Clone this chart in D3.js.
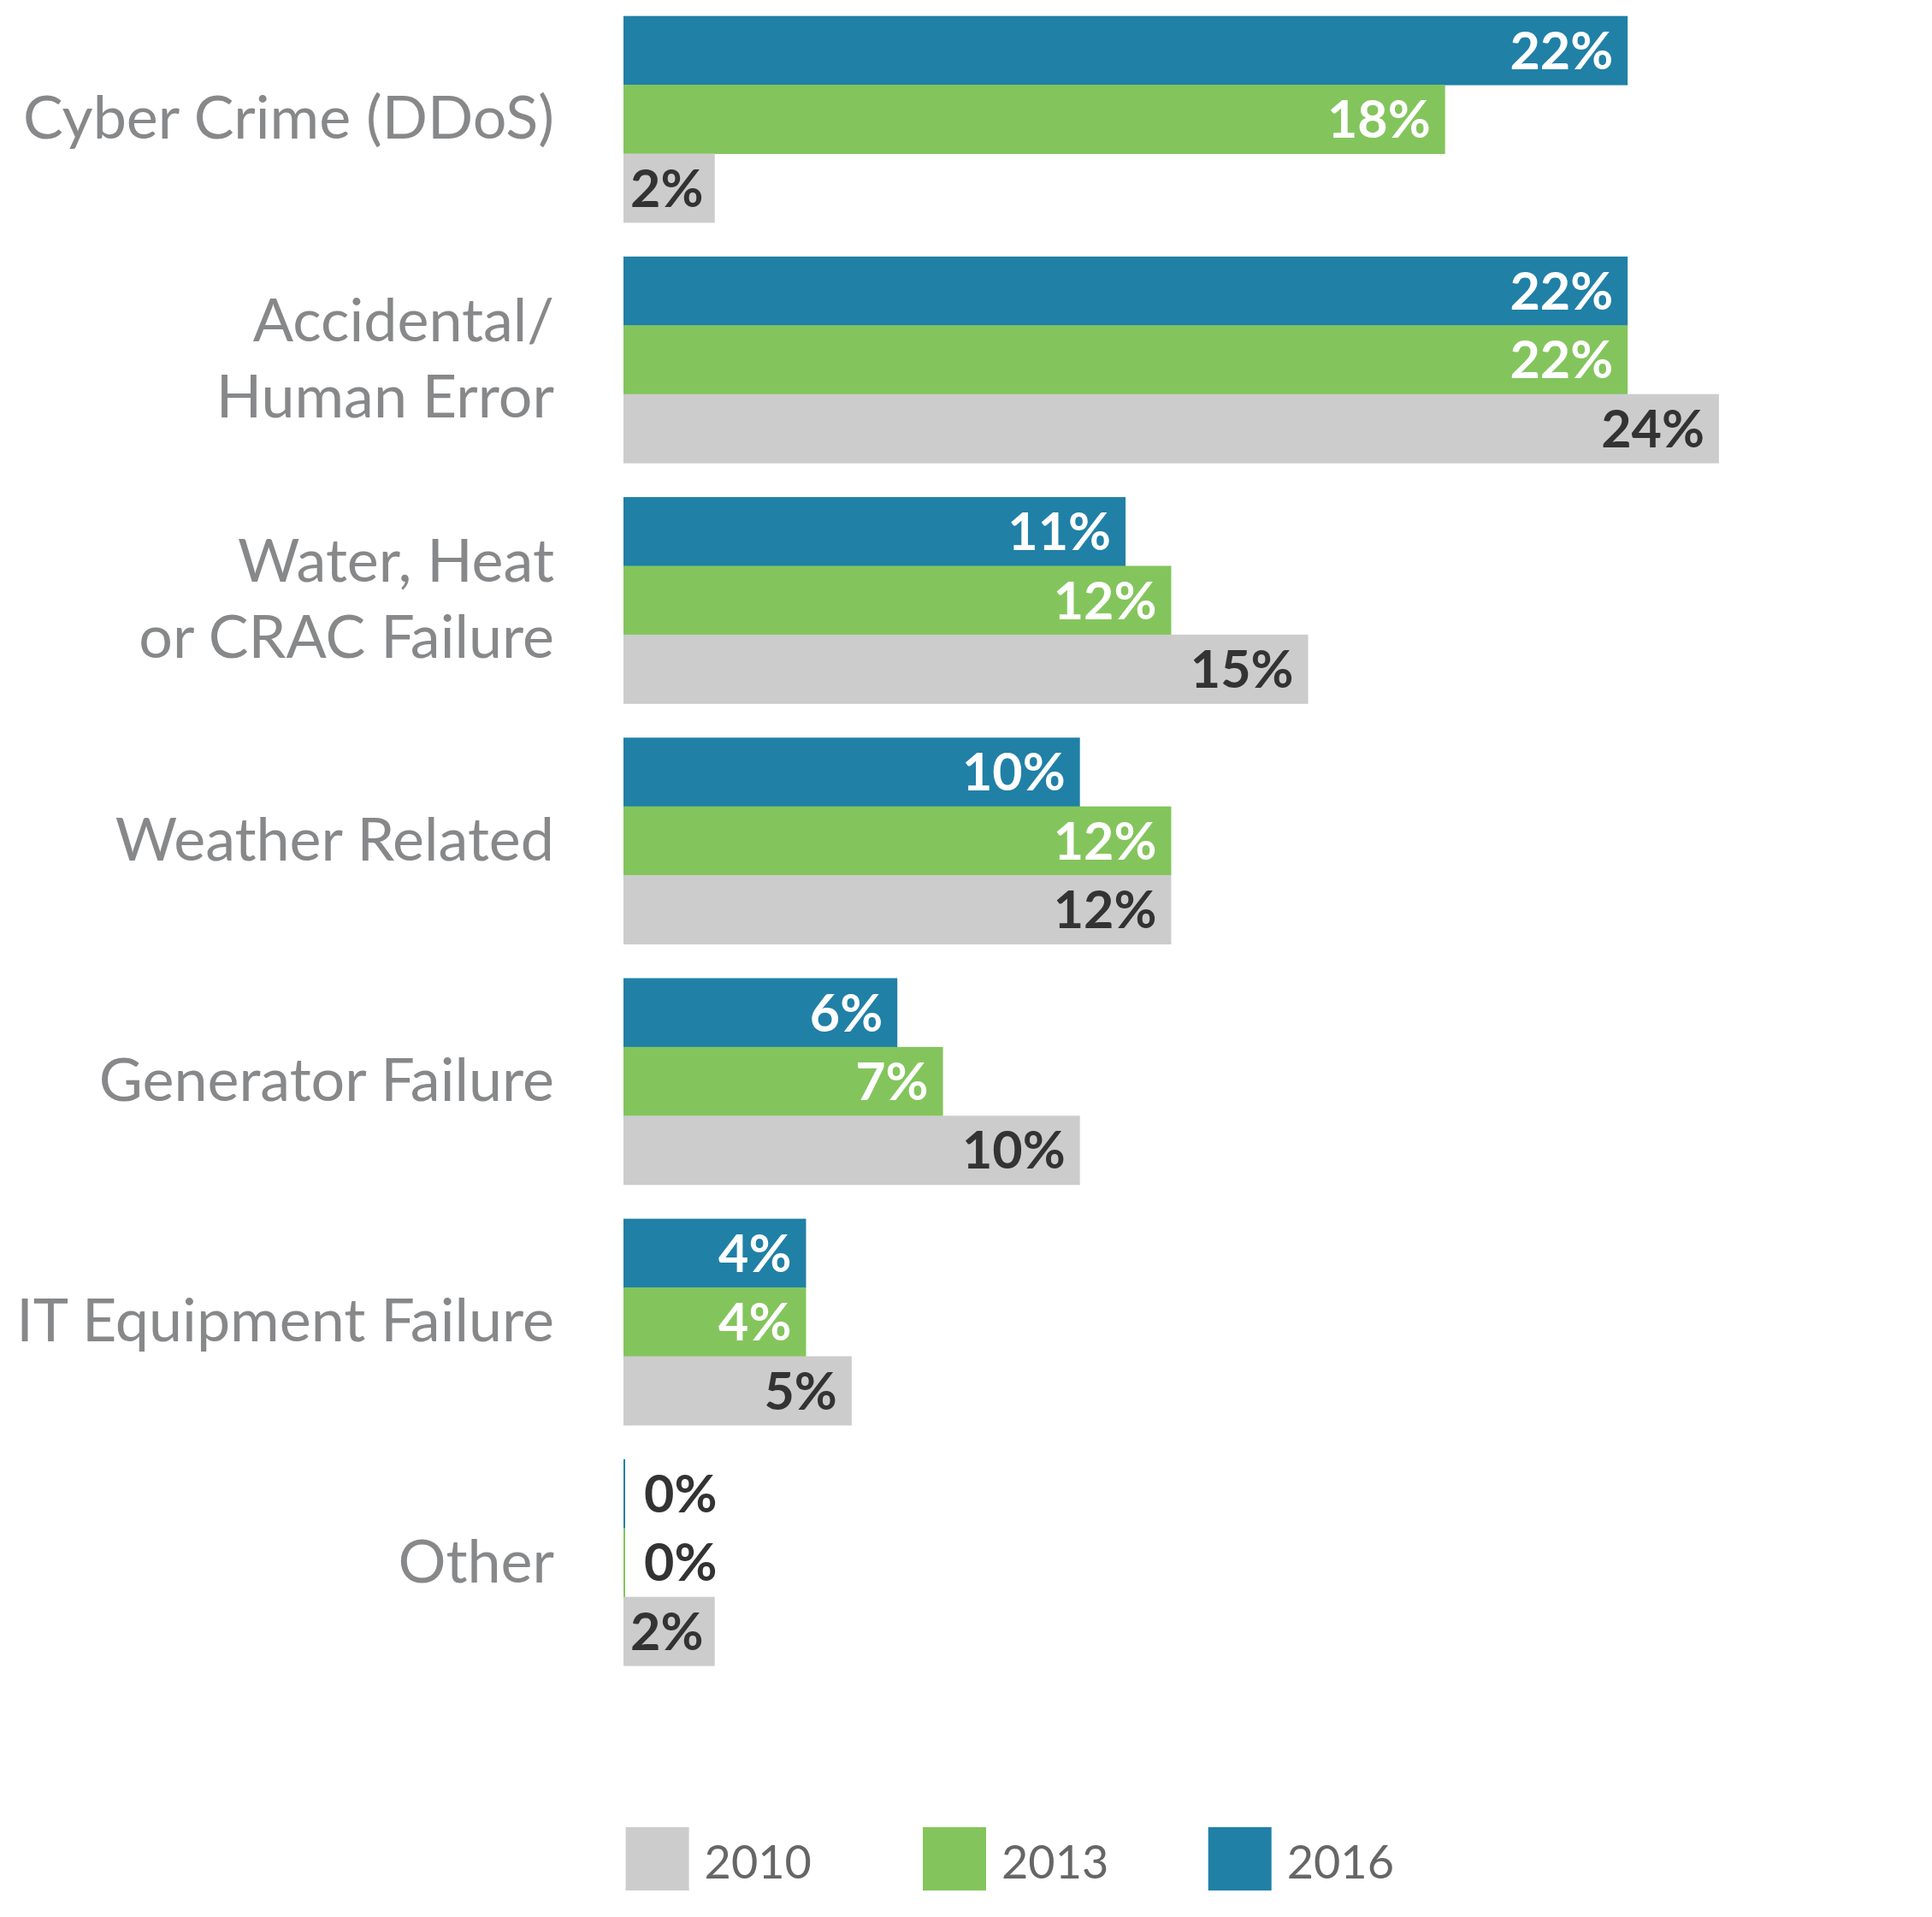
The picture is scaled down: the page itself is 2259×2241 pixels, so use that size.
<!DOCTYPE html>
<html>
<head>
<meta charset="utf-8">
<script src="https://cdn.jsdelivr.net/npm/d3@7"></script>
<style>
html,body{margin:0;padding:0;background:#fff;}
svg{display:block;}
</style>
</head>
<body>
<svg id="chart" width="2259" height="2241"></svg>
<script>
const categories = [
  ["Cyber Crime (DDoS)"],
  ["Accidental/", "Human Error"],
  ["Water, Heat", "or CRAC Failure"],
  ["Weather Related"],
  ["Generator Failure"],
  ["IT Equipment Failure"],
  ["Other"]
];
const series = ["2016", "2013", "2010"];
const values2016 = [22, 22, 11, 10, 6, 4, 0];
const values2013 = [18, 22, 12, 12, 7, 4, 0];
const values2010 = [2, 24, 15, 12, 10, 5, 2];
const legendYears = ["2010", "2013", "2016"];
const colors = {"2016": "#2080a6", "2013": "#83c55c", "2010": "#cccccc"};
const labelColors = {"2016": "#ffffff", "2013": "#ffffff", "2010": "#333333"};

const valuesBySeries = {"2016": values2016, "2013": values2013, "2010": values2010};
const data = categories.map((c, i) => ({
  key: i, lines: c,
  vals: series.map(s => ({series: s, value: valuesBySeries[s][i]}))
}));

const svg = d3.select("#chart");
const FONT = "Lato, 'Source Sans Pro', 'Noto Sans', sans-serif";

const x = d3.scaleLinear().domain([0, 24]).range([729, 729 + 24 * 53.37]);
const y = d3.scaleBand().domain(data.map(d => d.key)).range([18.7, 1947.1]).paddingInner(0.1422).paddingOuter(0);
const yi = d3.scaleBand().domain(series).range([0, y.bandwidth()]);

const groups = svg.selectAll("g.grp").data(data).join("g")
  .attr("class", "grp")
  .attr("transform", d => `translate(0,${y(d.key)})`);

groups.selectAll("rect").data(d => d.vals).join("rect")
  .attr("x", x(0))
  .attr("y", d => yi(d.series))
  .attr("width", d => Math.max(x(d.value) - x(0), 2))
  .attr("height", yi.bandwidth() + 0.5)
  .attr("fill", d => colors[d.series]);

groups.selectAll("text.val").data(d => d.vals).join("text")
  .attr("class", "val")
  .attr("font-family", FONT)
  .attr("font-weight", 700)
  .attr("font-size", 61)
  .attr("y", d => yi(d.series) + yi.bandwidth() / 2)
  .attr("dy", "0.36em")
  .each(function(d) {
    const t = d3.select(this).text(d.value + "%");
    if (d.value === 0) {
      t.attr("x", x(0) + 24).attr("text-anchor", "start").attr("fill", "#333333");
    } else {
      const w = this.getComputedTextLength();
      const barW = x(d.value) - x(0);
      if (w + 26 > barW) {
        t.attr("x", x(0) + 8).attr("text-anchor", "start");
      } else {
        t.attr("x", x(d.value) - 17).attr("text-anchor", "end");
      }
      t.attr("fill", labelColors[d.series]);
    }
  });

// category labels
groups.each(function(d) {
  const g = d3.select(this);
  const n = d.lines.length;
  const lh = 89;
  const txt = g.append("text")
    .attr("font-family", FONT)
    .attr("font-size", 70)
    .attr("fill", "#87888a")
    .attr("text-anchor", "end");
  d.lines.forEach((l, i) => {
    txt.append("tspan")
      .attr("x", 648)
      .attr("y", y.bandwidth() / 2 + (i - (n - 1) / 2) * lh)
      .attr("dy", "0.33em")
      .text(l);
  });
});

// legend
const legendX = [731.6, 1079, 1412.7];
const legend = svg.selectAll("g.leg").data(legendYears).join("g")
  .attr("class", "leg")
  .attr("transform", (d, i) => `translate(${legendX[i]},2136)`);
legend.append("rect").attr("width", 74).attr("height", 74).attr("fill", d => colors[d]);
legend.append("text")
  .attr("x", 92).attr("y", 37).attr("dy", "0.43em")
  .attr("font-family", FONT).attr("font-size", 54).attr("fill", "#666666")
  .text(d => d);
</script>
</body>
</html>
